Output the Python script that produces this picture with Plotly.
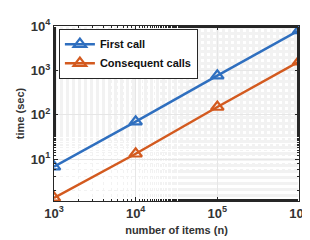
import plotly.graph_objects as go

n_items = [1e3, 1e4, 1e5, 1e6]
first_call = [6.8, 70, 760, 8000]
consequent_calls = [1.35, 13.3, 150, 1580]
x_tickvals = [1e3, 1e4, 1e5, 1e6]
x_ticktext = ["<b>10<sup>3</sup></b>", "<b>10<sup>4</sup></b>", "<b>10<sup>5</sup></b>", "<b>10<sup>6</sup></b>"]
y_tickvals = [1e1, 1e2, 1e3, 1e4]
y_ticktext = ["<b>10<sup>1</sup></b>", "<b>10<sup>2</sup></b>", "<b>10<sup>3</sup></b>", "<b>10<sup>4</sup></b>"]
series_names = ["<b>First call</b>", "<b>Consequent calls</b>"]
colors = ["#2F6FBF", "#D35A1F"]

fig = go.Figure()
for name, vals, col in zip(series_names, [first_call, consequent_calls], colors):
    fig.add_trace(go.Scatter(x=n_items, y=vals, name=name, mode="lines+markers",
                             line=dict(color=col, width=2.5),
                             marker=dict(symbol="triangle-up-open", size=11,
                                         line=dict(width=2.2, color=col))))

axis_common = dict(type="log", showline=True, linecolor="#262626", linewidth=1, mirror="allticks",
                   ticks="inside", ticklen=4, tickcolor="#262626",
                   showgrid=True, gridcolor="#E6E6E6", gridwidth=1, zeroline=False,
                   tickfont=dict(family="Liberation Sans", size=13, color="#333333"),
                   minor=dict(ticks="inside", ticklen=2, tickcolor="#262626", showgrid=True,
                              gridcolor="#F2F2F2", griddash="dot"))

fig.update_layout(
    width=310, height=240,
    margin=dict(l=46, r=9, t=14, b=47),
    paper_bgcolor="white", plot_bgcolor="white",
    font=dict(family="Liberation Sans", size=11, color="#333333"),
    showlegend=True,
    legend=dict(x=0.02, y=0.985, xanchor="left", yanchor="top", bgcolor="white",
                bordercolor="#262626", borderwidth=1,
                font=dict(family="Liberation Sans", size=11, color="#111111"),
                tracegroupgap=0, itemwidth=30),
    xaxis=dict(**axis_common, range=[3, 6], tickvals=x_tickvals, ticktext=x_ticktext,
               title=dict(text="<b>number of items (n)</b>", font=dict(size=11, color="#333333"), standoff=6)),
    yaxis=dict(**axis_common, range=[0.06, 4], tickvals=y_tickvals, ticktext=y_ticktext,
               title=dict(text="<b>time (sec)</b>", font=dict(size=11, color="#333333"), standoff=4)),
)

fig.write_html("out.html")
